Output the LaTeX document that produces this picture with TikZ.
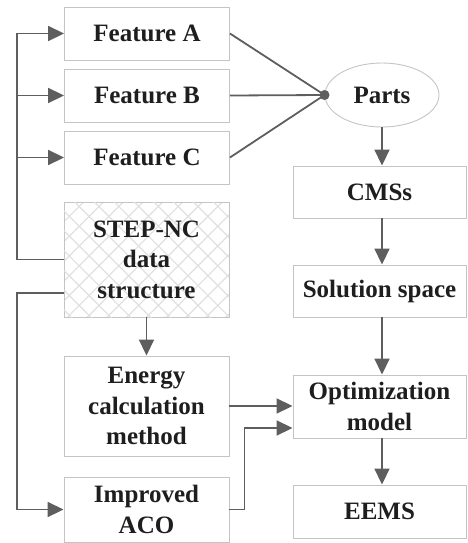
\documentclass[tikz,border=0pt]{standalone}
\usepackage{fontspec}
\setmainfont{Liberation Serif}
\usetikzlibrary{arrows.meta,patterns.meta,shapes.geometric}
\definecolor{linegray}{HTML}{5E5E5E}
\definecolor{boxgray}{HTML}{C4C4C4}
\definecolor{txt}{HTML}{1E1E1E}
\definecolor{hatch}{HTML}{E0E0E0}
\begin{document}
\begin{tikzpicture}[x=1pt,y=-1pt,
  box/.style={draw=boxgray,line width=0.9pt,rectangle,inner sep=0pt,align=center,
    text=txt,font=\fontsize{25}{30.5}\selectfont\bfseries},
  conn/.style={draw=linegray,line width=1.8pt},
  arr/.style={conn,-{Triangle[length=16pt,width=15pt]}}]
\useasboundingbox (0,0) rectangle (468,543);
% left column
\node[box,minimum width=165pt,minimum height=53pt] (FA) at (147,33.5) {Feature A};
\node[box,minimum width=165pt,minimum height=53pt] (FB) at (147,95.5) {Feature B};
\node[box,minimum width=165pt,minimum height=53pt] (FC) at (147,157.5) {Feature C};
\node[box,minimum width=165pt,minimum height=115pt,
  preaction={pattern={Lines[angle=45,distance=14pt,line width=1.2pt]},pattern color=hatch},
  postaction={pattern={Lines[angle=-45,distance=14pt,line width=1.2pt]},pattern color=hatch}]
  (STEP) at (146.5,259.5) {STEP-NC\\data\\structure};
\node[box,minimum width=165pt,minimum height=100pt] (EN) at (146.5,406) {Energy\\calculation\\method};
\node[box,minimum width=165pt,minimum height=65pt] (ACO) at (146.5,509.5) {Improved\\ACO};
% right column
\node[box,ellipse,minimum width=114pt,minimum height=64pt] (PA) at (382,95) {Parts};
\node[box,minimum width=173pt,minimum height=52pt] (CMS) at (379.5,192) {CMSs};
\node[box,minimum width=173pt,minimum height=52pt] (SOL) at (379.5,291) {Solution space};
\node[box,minimum width=173pt,minimum height=63pt] (OPT) at (379.5,406.5) {Optimization\\model};
\node[box,minimum width=173pt,minimum height=53pt] (EEMS) at (379.5,511.5) {EEMS};
\coordinate (bus) at (17,0);
\coordinate (dot) at (PA.west);
% feature lines to parts
\draw[conn] (FA.east) -- (dot);
\draw[conn] (FB.east) -- (dot);
\draw[conn] (FC.east) -- (dot);
\fill[linegray] (dot) circle (5pt);
% left bus
\draw[arr] (STEP.west) -| (bus |- FA.west) -- (FA.west);
\draw[arr] (bus |- FB.west) -- (FB.west);
\draw[arr] (bus |- FC.west) -- (FC.west);
\draw[arr] ([yshift=-33.5pt]STEP.west) -| (bus |- ACO.west) -- (ACO.west);
\draw[arr] (STEP.south) -- (EN.north);
% right column arrows
\draw[arr] (PA.south) -- (PA.south |- CMS.north);
\draw[arr] (PA.south |- CMS.south) -- (PA.south |- SOL.north);
\draw[arr] (PA.south |- SOL.south) -- (PA.south |- OPT.north);
\draw[arr] (PA.south |- OPT.south) -- (PA.south |- EEMS.north);
% into optimization
\draw[arr] (EN.east) -- (EN.east -| OPT.west);
\draw[arr] (ACO.east) -- ++(15,0) |- ([yshift=-21.5pt]OPT.west);
\end{tikzpicture}
\end{document}
